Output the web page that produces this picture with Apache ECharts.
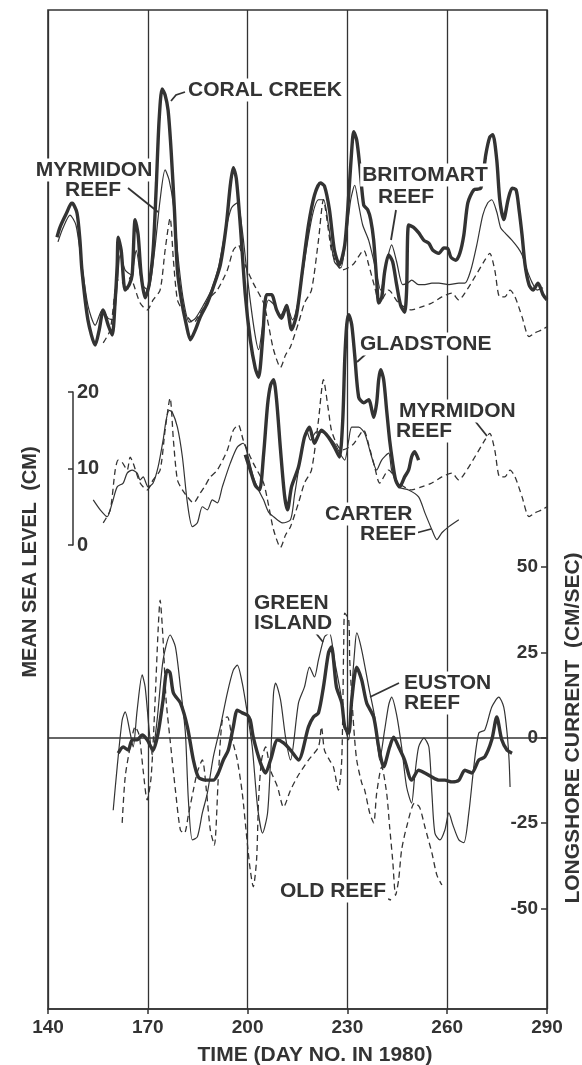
<!DOCTYPE html>
<html>
<head>
<meta charset="utf-8">
<script src="https://cdn.jsdelivr.net/npm/echarts/dist/echarts.min.js"></script>
<style>
  html, body { margin: 0; padding: 0; background: #fff; }
  #chart { width: 582px; height: 1065px; }
</style>
</head>
<body>
<div id="chart"></div>
<script>
// Day numbers (1980) on the time axis
const dayTicks = [140, 170, 200, 230, 260, 290];

// ---- Mean sea level, upper group (cm, arbitrary datum) : [day, value]
const coralCreek = [[142.7,16.7],[143.6,18.0],[145.4,19.7],[147.2,21.2],[148.7,19.9],[149.6,16.3],[150.2,12.4],[152.0,5.9],[154.2,2.6],[155.4,4.6],[156.6,7.2],[158.1,5.2],[159.3,3.9],[160.2,8.5],[160.8,13.1],[161.1,16.7],[162.0,15.0],[163.2,9.8],[164.4,10.5],[165.3,11.8],[166.2,19.0],[167.1,17.0],[168.0,11.8],[169.2,8.8],[170.4,10.5],[171.6,15.0],[172.5,22.9],[173.4,32.0],[174.3,36.1],[175.2,35.3],[176.1,33.3],[177.0,28.1],[178.0,20.3],[178.9,12.4],[180.1,8.5],[181.6,5.2],[182.8,3.3],[184.3,4.6],[185.8,6.3],[187.9,8.1],[189.7,10.2],[191.8,13.1],[193.6,18.3],[194.8,23.5],[195.7,25.8],[196.6,24.4],[197.8,18.3],[199.3,9.2],[200.8,3.3],[202.3,-0.4],[203.3,-1.6],[204.5,3.3],[205.7,9.2],[207.2,9.2],[208.7,7.2],[210.2,6.1],[211.7,7.8],[213.2,4.6],[214.7,6.5],[216.5,12.4],[218.3,18.3],[220.1,22.2],[221.9,23.8],[223.1,23.4],[224.6,20.3],[226.1,15.0],[227.6,13.1],[229.2,15.7],[230.4,22.2],[231.3,28.1],[231.9,30.5],[232.8,29.4],[233.7,26.1],[234.9,20.9],[236.1,20.3],[237.0,19.0],[237.9,16.3],[238.8,11.1],[239.4,8.1],[240.3,8.8],[241.2,12.2],[242.4,14.4],[243.6,13.5],[244.8,10.5],[246.0,7.8],[247.2,6.9],[247.8,9.8],[248.4,18.3],[249.9,18.0],[251.4,17.3],[253.0,16.3],[254.5,15.9],[255.7,15.0],[257.5,14.6],[259.0,15.3],[260.2,15.2],[261.1,14.1],[262.6,13.7],[263.8,14.6],[265.0,17.0],[266.2,21.2],[268.0,22.9],[270.1,23.1],[271.6,27.5],[272.8,29.8],[273.7,30.1],[274.9,26.8],[275.8,21.6],[277.0,19.0],[278.3,21.6],[279.5,23.1],[280.7,22.9],[281.6,20.3],[282.5,17.0],[283.4,13.1],[284.6,10.5],[285.8,9.8],[287.3,10.7],[288.8,9.2],[290.0,8.5]];

const britomartReef = [[143.0,16.1],[144.5,17.9],[146.6,19.6],[148.4,18.3],[149.9,14.0],[152.0,7.8],[154.2,5.2],[156.3,7.2],[158.1,6.1],[159.6,5.9],[160.8,10.5],[161.7,14.4],[163.2,12.4],[165.0,11.8],[166.5,15.0],[168.3,10.5],[170.1,9.8],[171.9,14.4],[173.7,21.6],[175.2,25.5],[176.4,24.2],[177.7,20.9],[179.2,13.7],[180.7,8.5],[182.5,5.6],[184.3,6.1],[186.7,7.8],[189.1,9.8],[191.2,12.7],[193.3,17.4],[195.1,20.5],[196.9,21.2],[198.4,17.6],[200.2,10.5],[202.0,4.6],[203.3,2.0],[204.8,5.9],[206.3,8.5],[208.1,7.8],[209.9,6.5],[211.7,7.8],[213.5,5.9],[215.3,8.5],[217.4,14.4],[219.5,19.6],[221.3,21.6],[222.8,21.6],[224.3,18.3],[226.1,13.5],[228.0,12.7],[229.5,16.3],[231.0,21.6],[232.2,23.5],[233.4,20.9],[234.6,18.3],[236.4,16.3],[238.2,13.1],[240.0,9.8],[241.8,13.5],[243.3,15.7],[244.8,13.5],[246.6,10.5],[248.1,10.7],[249.3,11.1],[251.4,10.5],[253.3,10.5],[255.4,10.7],[257.5,10.7],[260.5,10.5],[263.5,10.7],[265.3,10.7],[267.1,12.4],[268.9,15.7],[270.7,19.6],[272.2,21.2],[273.4,21.6],[274.9,20.0],[276.1,17.9],[277.3,17.3],[279.5,16.3],[281.3,15.3],[282.5,14.4],[284.0,12.4],[285.5,10.8],[287.0,9.8],[288.8,10.1]];

// Myrmidon Reef is drawn in both sea-level groups
const myrmidonReef = [[156.6,2.9],[158.7,4.6],[160.2,9.8],[161.1,11.1],[162.3,10.8],[163.8,9.8],[164.7,11.5],[165.6,10.7],[167.7,8.1],[169.8,7.2],[171.6,8.5],[173.7,9.8],[175.2,15.0],[176.7,19.2],[177.7,13.7],[178.9,8.5],[180.4,7.2],[181.9,6.3],[183.7,5.5],[185.8,6.8],[187.3,7.8],[188.8,8.9],[190.9,9.8],[193.9,12.4],[195.7,15.0],[197.2,15.7],[198.7,13.7],[199.9,12.4],[201.7,10.7],[204.8,8.1],[206.3,5.2],[207.8,2.0],[209.9,-0.3],[211.4,1.3],[212.9,2.4],[215.3,5.5],[217.1,8.1],[219.2,9.8],[221.3,16.3],[222.8,21.6],[224.3,17.6],[225.2,15.0],[226.7,13.3],[228.3,12.4],[231.6,13.1],[234.9,15.0],[236.4,13.1],[238.2,10.2],[239.7,8.1],[242.4,9.8],[245.4,8.1],[249.3,7.2],[252.3,7.6],[255.4,8.1],[258.4,8.9],[261.4,9.4],[263.5,8.5],[265.3,9.4],[268.3,11.5],[271.3,13.7],[272.8,14.6],[274.3,12.4],[275.8,8.9],[277.3,8.9],[278.9,9.8],[280.4,8.9],[282.5,6.3],[284.6,3.7],[286.4,4.2],[288.5,4.6],[290.0,5.0]];

// ---- Mean sea level, lower group (cm, same datum as the scale bar)
const gladstone = [[199.3,11.8],[200.8,9.8],[202.3,7.8],[203.6,7.2],[204.8,11.8],[206.0,18.3],[206.9,20.9],[207.8,21.6],[208.7,19.0],[209.9,12.4],[211.1,6.5],[212.0,4.6],[213.2,7.6],[215.3,10.2],[217.1,14.1],[218.6,15.4],[220.1,13.3],[222.2,15.0],[224.3,14.1],[226.1,12.8],[227.6,11.5],[228.6,16.3],[229.2,24.2],[229.8,28.8],[230.4,30.1],[231.3,28.8],[232.2,24.8],[233.4,19.3],[234.9,18.6],[236.4,19.0],[237.9,16.7],[238.8,18.6],[239.4,21.6],[240.0,22.9],[240.9,21.6],[241.8,17.6],[242.7,13.7],[243.6,10.8],[244.5,8.5],[245.7,7.6],[247.2,8.9],[248.4,9.8],[249.3,11.5],[250.2,12.2],[251.4,11.1]];

const carterReef = [[153.6,5.9],[155.7,4.6],[157.8,3.7],[159.3,5.5],[160.8,7.6],[162.6,8.1],[163.8,9.4],[165.3,9.8],[166.8,9.4],[167.7,8.5],[168.6,8.9],[170.1,7.6],[171.6,8.1],[173.1,10.2],[174.6,13.7],[175.5,16.3],[176.4,17.6],[177.3,17.4],[178.9,15.4],[180.4,11.5],[181.9,5.5],[183.4,2.4],[184.9,2.9],[186.4,5.0],[187.9,4.6],[189.4,5.9],[190.9,5.5],[192.4,7.6],[194.8,10.7],[196.9,12.8],[198.7,13.3],[200.2,11.5],[201.7,8.9],[203.3,7.2],[204.8,5.9],[206.3,4.3],[207.8,3.7],[210.5,2.9],[212.9,3.3],[214.1,6.5],[215.3,9.8],[216.5,13.1],[217.7,15.0],[218.9,13.7],[220.7,14.8],[223.1,14.6],[226.1,13.3],[228.0,11.8],[229.2,11.1],[230.4,13.7],[231.3,15.4],[233.4,15.4],[235.2,14.6],[237.3,11.5],[238.8,9.8],[240.3,11.1],[242.4,12.0],[243.3,9.8],[245.4,7.6],[248.4,7.2],[251.4,6.3],[253.3,4.2],[255.4,2.0],[256.9,0.7],[258.4,1.6],[260.5,2.4],[263.5,3.3]];

// ---- Longshore current (cm/s)
const greenIsland = [[159.6,-21.2],[160.8,-8.5],[162.3,5.2],[163.2,7.6],[164.7,1.4],[165.6,-2.7],[166.8,8.1],[168.3,18.4],[169.2,14.9],[170.4,2.3],[171.3,-5.0],[172.8,5.2],[174.6,22.8],[176.7,30.1],[178.3,26.6],[179.8,14.9],[181.3,1.4],[182.2,-18.2],[183.4,-29.9],[184.9,-29.0],[186.4,-22.0],[187.9,-16.2],[189.7,-5.6],[191.8,3.2],[193.9,13.1],[195.7,19.8],[196.9,21.3],[198.4,16.0],[199.9,7.3],[201.4,-2.7],[203.0,-20.3],[204.5,-27.9],[206.0,-22.0],[206.9,-6.5],[207.8,13.1],[208.4,16.0],[209.9,11.1],[211.4,0.2],[212.9,-6.5],[215.3,10.2],[217.1,14.9],[218.6,20.7],[220.1,17.8],[221.3,22.8],[223.1,29.5],[224.6,30.7],[226.1,22.8],[228.3,11.1],[229.2,3.2],[230.4,-0.6],[231.3,14.0],[232.2,25.7],[232.8,30.7],[234.3,25.7],[236.4,14.9],[238.2,6.1],[239.7,-6.5],[241.2,2.3],[242.4,9.6],[243.3,11.9],[244.8,6.7],[246.3,-2.7],[247.8,-14.4],[249.3,-19.1],[250.2,-11.5],[251.4,-2.7],[253.0,-0.1],[254.5,-2.7],[255.4,-16.2],[256.3,-27.9],[257.8,-29.9],[259.3,-27.0],[260.5,-22.0],[261.7,-25.5],[263.5,-29.9],[265.0,-30.7],[266.5,-22.0],[268.0,-8.5],[269.5,1.4],[271.3,2.3],[273.4,9.0],[275.5,11.9],[277.0,9.0],[278.0,1.4],[278.6,-6.5],[278.9,-14.4]];

const eustonReef = [[161.1,-4.5],[162.6,-2.7],[164.1,-3.6],[165.3,-0.6],[166.8,-0.6],[168.3,0.8],[169.8,-0.6],[171.6,-3.6],[173.1,1.4],[174.6,11.1],[175.8,19.8],[176.7,19.0],[177.7,13.1],[179.8,10.2],[181.9,3.2],[183.7,-6.5],[185.2,-11.5],[187.3,-12.4],[189.7,-12.4],[191.2,-10.3],[192.7,-6.5],[194.2,-3.6],[195.7,3.2],[196.9,8.1],[198.4,7.3],[199.9,6.7],[200.8,5.2],[201.7,0.2],[203.9,-7.4],[205.4,-10.3],[206.9,-6.5],[209.0,-0.6],[210.8,-1.5],[212.9,-3.6],[215.3,-6.5],[218.3,3.2],[219.8,6.1],[221.3,7.3],[222.8,14.9],[224.3,24.8],[225.2,26.6],[226.7,14.9],[228.3,10.2],[229.2,3.2],[230.4,1.4],[231.3,11.1],[232.8,20.7],[234.3,16.9],[235.8,10.2],[237.9,6.1],[239.4,-2.7],[240.9,-8.5],[242.7,-2.7],[243.9,0.2],[245.4,-2.7],[247.2,-6.5],[249.3,-12.4],[251.4,-9.5],[253.3,-10.3],[255.4,-11.5],[257.5,-12.4],[259.3,-12.4],[261.4,-12.9],[263.5,-12.4],[265.3,-9.5],[267.4,-10.3],[269.5,-6.5],[271.3,-5.6],[273.4,-0.6],[274.9,6.1],[276.4,-0.6],[278.0,-3.6],[279.5,-4.5]];

const oldReef = [[162.3,-24.9],[163.2,-11.5],[164.7,-2.7],[166.2,3.2],[167.4,0.8],[168.6,-9.5],[169.8,-18.2],[171.0,-11.5],[172.2,11.1],[173.1,31.5],[173.7,40.3],[174.6,28.6],[175.5,11.1],[176.7,-0.6],[178.3,-15.3],[179.8,-27.0],[181.0,-27.9],[182.2,-22.6],[183.7,-15.3],[184.9,-10.0],[186.4,-6.5],[187.6,-15.3],[188.8,-27.0],[190.0,-31.4],[191.2,-11.5],[192.4,5.2],[193.9,6.1],[195.4,-0.6],[196.9,-6.5],[198.4,-16.2],[199.9,-30.7],[200.8,-38.7],[201.7,-43.6],[202.7,-35.7],[203.3,-18.2],[204.2,-6.5],[205.4,-2.7],[206.9,-9.5],[209.0,-14.4],[210.8,-20.3],[212.9,-15.3],[215.3,-10.9],[218.3,-6.5],[221.3,-2.7],[222.2,3.2],[223.1,-3.6],[224.6,-6.5],[225.8,-8.5],[227.3,-15.3],[228.3,-6.5],[228.9,27.8],[229.2,36.5],[230.4,34.5],[230.7,22.8],[231.9,3.2],[232.8,-6.5],[234.3,-13.2],[235.2,-15.3],[236.7,-22.0],[237.9,-24.9],[238.8,-16.2],[240.3,-8.5],[241.8,-16.2],[242.7,-26.1],[243.6,-35.7],[244.5,-46.1],[245.4,-41.6],[246.3,-32.8],[247.8,-26.1],[250.2,-19.1],[251.7,-20.3],[253.3,-26.1],[255.4,-33.7],[256.9,-40.2],[258.4,-43.1]];

// Scale bar and current axis ticks
const scaleBarTicks = [0, 10, 20];
const currentTicks = [-50, -25, 0, 25, 50];

const INK = '#333';
const FONT = '"Liberation Sans", Arial, sans-serif';

// frame geometry (pixels)
const FRAME = { left: 48, right: 35, top: 10, bottom: 56 };
const PX_PER_CM = 7.65;
const frameH = 1065 - FRAME.top - FRAME.bottom;
// datum rows of the two sea-level groups
const upperZero = 365, lowerZero = 545;
function cmRange(zeroY) {
  return { min: -(FRAME.top + frameH - zeroY) / PX_PER_CM, max: (zeroY - FRAME.top) / PX_PER_CM };
}
const upperRange = cmRange(upperZero);
const lowerRange = cmRange(lowerZero);

const heavy = { color: INK, width: 3.4 };
const light = { color: INK, width: 1.2 };
const dashed = { color: INK, width: 1.3, type: [6, 4] };

function line(name, data, xi, yi, ls, extra) {
  return Object.assign({
    name, type: 'line', data, xAxisIndex: xi, yAxisIndex: yi,
    showSymbol: false, smooth: 0.25, lineStyle: ls, silent: true,
    animation: false
  }, extra || {});
}

function label(text, x, y, align) {
  return {
    type: 'text', x, y, z: 100,
    style: {
      text, fill: INK, font: 'bold 21px ' + FONT,
      align: align || 'left', verticalAlign: 'middle',
      backgroundColor: '#fff', padding: [1, 2]
    }
  };
}
function leader(points) {
  return { type: 'polyline', z: 99, shape: { points }, style: { stroke: INK, lineWidth: 1.8, fill: null } };
}

const chart = echarts.init(document.getElementById('chart'), null, { renderer: 'canvas' });
chart.setOption({
  animation: false,
  backgroundColor: '#fff',
  grid: [
    { left: FRAME.left, right: FRAME.right, top: FRAME.top, bottom: FRAME.bottom,
      show: true, borderColor: INK, borderWidth: 1.6, backgroundColor: 'transparent' },
    // longshore current panel: 3.416 px per cm/s, zero at y = 738
    { left: FRAME.left, right: FRAME.right, top: 567, height: 341.6, show: false },
    // sea-level scale bar
    { left: 73, top: lowerZero - 20 * PX_PER_CM, width: 1, height: 20 * PX_PER_CM, show: false }
  ],
  xAxis: [
    { gridIndex: 0, type: 'value', min: dayTicks[0], max: dayTicks[dayTicks.length - 1],
      interval: dayTicks[1] - dayTicks[0],
      axisLine: { show: true, onZero: false, lineStyle: { color: INK, width: 1.6 } },
      axisTick: { show: true, length: 5, lineStyle: { color: INK, width: 1.5 } },
      axisLabel: { color: INK, fontSize: 19, fontWeight: 'bold', fontFamily: FONT, margin: 9 },
      splitLine: { show: true, lineStyle: { color: INK, width: 1.3 } } },
    { gridIndex: 1, type: 'value', min: dayTicks[0], max: dayTicks[dayTicks.length - 1], show: false },
    { gridIndex: 2, type: 'value', min: 0, max: 1, show: false }
  ],
  yAxis: [
    { gridIndex: 0, type: 'value', min: upperRange.min, max: upperRange.max, show: false },
    { gridIndex: 0, type: 'value', min: lowerRange.min, max: lowerRange.max, show: false },
    { gridIndex: 1, type: 'value', position: 'right',
      min: currentTicks[0], max: currentTicks[currentTicks.length - 1], interval: 25,
      axisLine: { show: false },
      axisTick: { show: true, inside: true, length: 6, lineStyle: { color: INK, width: 1.5 } },
      axisLabel: { inside: true, margin: 9, color: INK, fontSize: 19, fontWeight: 'bold', fontFamily: FONT },
      splitLine: { show: false } },
    { gridIndex: 2, type: 'value', position: 'left',
      min: scaleBarTicks[0], max: scaleBarTicks[scaleBarTicks.length - 1], interval: 10,
      axisLine: { show: true, lineStyle: { color: INK, width: 1.5 } },
      axisTick: { show: true, length: 5, lineStyle: { color: INK, width: 1.5 } },
      axisLabel: { inside: true, margin: 4, color: INK, fontSize: 20, fontWeight: 'bold', fontFamily: FONT },
      splitLine: { show: false } }
  ],
  series: [
    line('Myrmidon Reef (upper)', myrmidonReef, 0, 0, dashed),
    line('Britomart Reef', britomartReef, 0, 0, light),
    line('Coral Creek', coralCreek, 0, 0, heavy),
    line('Myrmidon Reef', myrmidonReef, 0, 1, dashed),
    line('Carter Reef', carterReef, 0, 1, light),
    line('Gladstone', gladstone, 0, 1, heavy),
    line('Old Reef', oldReef, 1, 2, dashed),
    line('Green Island', greenIsland, 1, 2, light),
    line('Euston Reef', eustonReef, 1, 2, heavy, {
      markLine: { silent: true, symbol: 'none', label: { show: false },
        lineStyle: { color: INK, type: 'solid', width: 1.6 }, data: [{ yAxis: 0 }] }
    })
  ],
  graphic: [
    // station labels
    label('CORAL CREEK', 186, 90),
    leader([[185, 92], [176, 95], [171, 101]]),
    label('MYRMIDON', 94, 170, 'center'),
    label('REEF', 93, 190, 'center'),
    leader([[128, 188], [158, 212]]),
    label('BRITOMART', 425, 175, 'center'),
    label('REEF', 406, 197, 'center'),
    leader([[396, 210], [391, 240]]),
    label('GLADSTONE', 358, 344),
    leader([[367, 353], [357, 362]]),
    label('MYRMIDON', 397, 411),
    label('REEF', 394, 431),
    leader([[475, 421], [487, 436]]),
    label('CARTER', 323, 514),
    label('REEF', 358, 534),
    leader([[416, 533], [431, 529]]),
    label('GREEN', 252, 603),
    label('ISLAND', 252, 623),
    leader([[315, 632], [323, 642]]),
    label('EUSTON', 402, 683),
    label('REEF', 402, 703),
    leader([[399, 683], [370, 697]]),
    label('OLD REEF', 278, 891),
    leader([[385, 898], [391, 900]]),
    // axis titles
    { type: 'text', x: 315, y: 1055, z: 100,
      style: { text: 'TIME (DAY NO. IN 1980)', fill: INK, font: 'bold 21px ' + FONT, align: 'center', verticalAlign: 'middle' } },
    { type: 'text', x: 30, y: 562, rotation: Math.PI / 2, z: 100,
      style: { text: 'MEAN SEA LEVEL  (CM)', fill: INK, font: 'bold 20px ' + FONT, align: 'center', verticalAlign: 'middle' } },
    { type: 'text', x: 573, y: 728, rotation: Math.PI / 2, z: 100,
      style: { text: 'LONGSHORE CURRENT  (CM/SEC)', fill: INK, font: 'bold 21px ' + FONT, align: 'center', verticalAlign: 'middle' } }
  ]
});
</script>
</body>
</html>
